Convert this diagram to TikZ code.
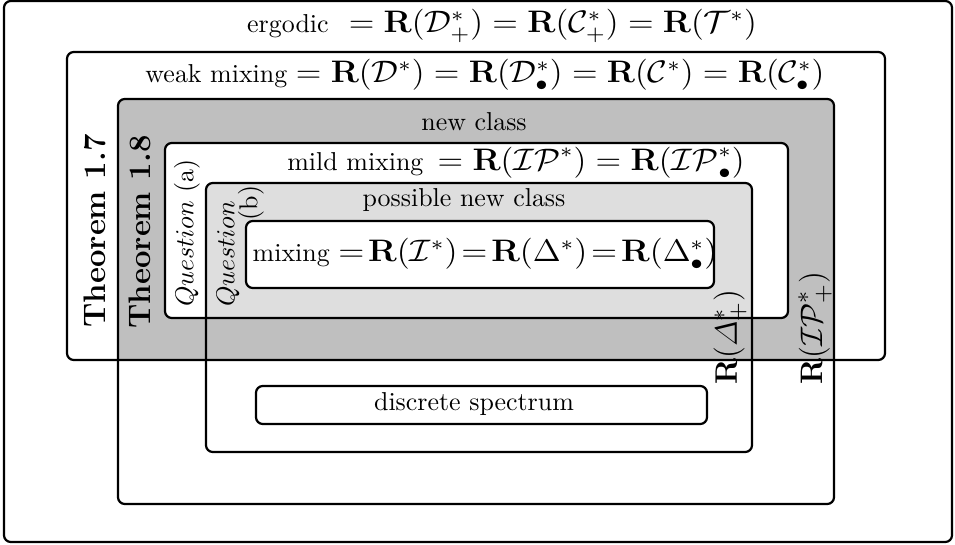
\documentclass[tikz,border=0pt]{standalone}
\usepackage{amsmath}
\usepackage{graphicx}
\newcommand\bigmth[2][1.08]{\scalebox{#1}[1]{\fontsize{11.5}{14}\selectfont$#2$}}
\newcommand\rotmth[1]{{\fontsize{12.8}{15}\selectfont$#1$}}
\begin{document}
\begin{tikzpicture}[x=0.386pt,y=-0.386pt,
  outline/.style={draw=black, line width=0.85pt, rounded corners=2.6pt},
  rfill/.style={rounded corners=2.6pt},
  lbl/.style={inner sep=0pt, anchor=center},
  rlbl/.style={inner sep=0pt, anchor=center, rotate=90}]
\useasboundingbox (0,0) rectangle (955,545);
\colorlet{darkfill}{black!25}
\colorlet{lightfill}{black!13}
% fills
\fill[white] (0,0) rectangle (955,545);
\begin{scope}
  \clip[rfill] (67,52) rectangle (885,360);
  \fill[darkfill, rfill] (118,99) rectangle (834,504);
\end{scope}
\fill[white, rfill] (165,143) rectangle (788,318);
\begin{scope}
  \clip[rfill] (165,143) rectangle (788,318);
  \fill[lightfill, rfill] (206,183) rectangle (752,452);
\end{scope}
\fill[white, rfill] (246,221) rectangle (714,288);
% outlines
\draw[outline] (4,1) rectangle (952,542);
\draw[outline] (67,52) rectangle (885,360);
\draw[outline] (118,99) rectangle (834,504);
\draw[outline] (165,143) rectangle (788,318);
\draw[outline] (206,183) rectangle (752,452);
\draw[outline] (246,221) rectangle (714,288);
\draw[outline] (256,386) rectangle (707,424);
% labels
\node[lbl] (erg) at (502,26) {ergodic\;\, \bigmth{=\mathbf{R}(\mathcal{D}^*_+)=\mathbf{R}(\mathcal{C}^*_+)=\mathbf{R}(\mathcal{T}^*)}};
\node[lbl] (wm) at (485,75) {weak mixing \bigmth{=\mathbf{R}(\mathcal{D}^*)=\mathbf{R}(\mathcal{D}^*_\bullet)=\mathbf{R}(\mathcal{C}^*)=\mathbf{R}(\mathcal{C}^*_\bullet)}};
\node[lbl] (nc) at (474,122) {new class};
\node[lbl] (mm) at (516,163) {mild mixing \bigmth{\,=\mathbf{R}(\mathcal{IP}^*)=\mathbf{R}(\mathcal{IP}^*_\bullet)}};
\node[lbl] (pnc) at (464,200) {possible new class};
\node[lbl] (mx) at (485,254) {mixing \bigmth[1.1]{=\!\mathbf{R}(\mathcal{I}^*)\!=\!\mathbf{R}(\Delta^*)\!=\!\mathbf{R}(\Delta^*_\bullet)}};
\node[lbl] (ds) at (474,404) {discrete spectrum};
\node[rlbl] (t17) at (95,231) {\large\bfseries Theorem 1.7};
\node[rlbl] (t18) at (140,232) {\large\bfseries Theorem 1.8};
\node[rlbl] (qa) at (187,233) {$Question$ (a)};
\node[rlbl] (qb) at (228,254) {$Question$};
\node[rlbl] (qbl) at (251,203) {(b)};
\node[rlbl] (rd) at (730,337) {\rotmth{\mathbf{R}(\varDelta^*_+)}};
\node[rlbl] (rip) at (815,328) {\rotmth{\mathbf{R}(\mathcal{IP}^*_+)}};
\end{tikzpicture}
\end{document}
